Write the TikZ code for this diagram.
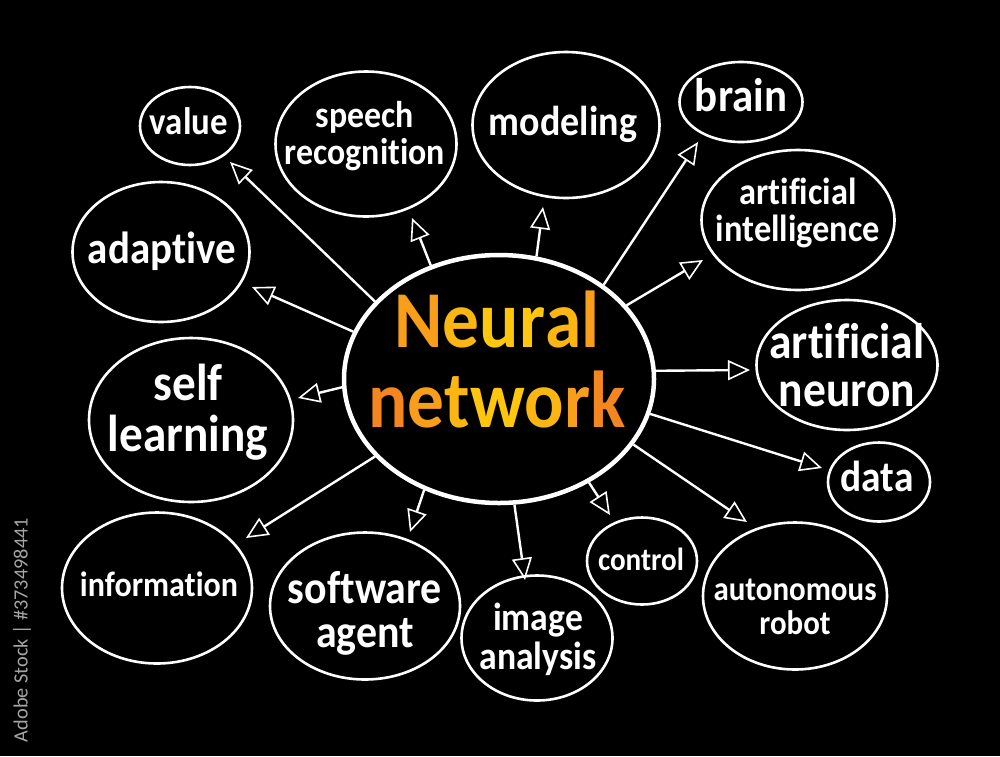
\documentclass[tikz,border=0pt]{standalone}
\usepackage{fontspec}
\setmainfont{Carlito}[Ligatures={NoCommon}]
\usepackage{graphicx}
\usetikzlibrary{shapes.geometric,arrows.meta}
\definecolor{oDeep}{RGB}{244,134,31}
\definecolor{oMid}{RGB}{248,158,26}
\definecolor{yMid}{RGB}{252,182,18}
\definecolor{yLight}{RGB}{255,198,14}
\definecolor{wmgray}{RGB}{165,165,165}
\newcommand{\mmtext}[2]{\resizebox{#1pt}{!}{\scalebox{1}[1.1]{\bfseries\renewcommand{\arraystretch}{0.8}\begin{tabular}{@{}c@{}}#2\end{tabular}}}}
\begin{document}
\begin{tikzpicture}[x=1pt,y=-1pt,
  bub/.style={ellipse,draw=white,line width=2.6pt,inner sep=0pt},
  hub/.style={ellipse,draw=white,line width=4.5pt,inner sep=0pt},
  txt/.style={inner sep=0pt,text=white},
  arr/.style={draw=white,line width=2.4pt,-{Triangle[open,length=22pt,width=20pt,line width=1.6pt]}}]
\useasboundingbox (0,0) rectangle (1000,756);
\fill[black] (0,0) rectangle (1000,756);

% watermark id
\node[rotate=90,text=wmgray,inner sep=0pt] (wm) at (22,630) {\resizebox{224pt}{!}{Adobe Stock | \#373498441}};

% hub
\node[hub,minimum width=310pt,minimum height=248pt] (nn) at (499,379) {};
\node[inner sep=0pt] (nnt) at (497,371) {\resizebox{257pt}{!}{\scalebox{1}[1.1]{\bfseries\renewcommand{\arraystretch}{0.82}\begin{tabular}{@{}c@{}}%
{\color{oMid}N}{\color{yMid}e}{\color{yLight}u}{\color{yLight}r}{\color{yMid}a}{\color{oMid}l}\\
{\color{oDeep}n}{\color{oMid}e}{\color{yMid}t}{\color{yLight}w}{\color{yMid}o}{\color{oMid}r}{\color{oDeep}k}\end{tabular}}}};

% bubbles
\node[bub,minimum width=100pt,minimum height=78pt] (v) at (190,126) {};
\node[txt] (vt) at (189,127) {\mmtext{78}{value}};
\node[bub,minimum width=181pt,minimum height=145pt] (sr) at (366,144) {};
\node[txt] (srt) at (365,138) {\mmtext{160}{speech\\recognition}};
\node[bub,minimum width=187pt,minimum height=146pt] (mo) at (566,125) {};
\node[txt] (mot) at (563,127) {\mmtext{148}{modeling}};
\node[bub,minimum width=123pt,minimum height=80pt] (br) at (741,102) {};
\node[txt] (brt) at (741,102) {\mmtext{92}{brain}};
\node[bub,minimum width=193pt,minimum height=140pt] (ai) at (798,220) {};
\node[txt] (ait) at (798,215) {\mmtext{164}{artificial\\intelligence}};
\node[bub,minimum width=181pt,minimum height=130pt] (an) at (847,365) {};
\node[txt] (ant) at (847,372) {\mmtext{155}{artificial\\neuron}};
\node[bub,minimum width=102pt,minimum height=79pt] (da) at (879,482) {};
\node[txt] (dat) at (877,483) {\mmtext{73}{data}};
\node[bub,minimum width=184pt,minimum height=147pt] (ar) at (795,596) {};
\node[txt] (art) at (795,611) {\mmtext{163}{autonomous\\robot}};
\node[bub,minimum width=110pt,minimum height=87pt] (co) at (642,561) {};
\node[txt] (cot) at (641,564) {\mmtext{86}{control}};
\node[bub,minimum width=151pt,minimum height=125pt] (ia) at (537,638) {};
\node[txt] (iat) at (538,642) {\mmtext{117}{image\\analysis}};
\node[bub,minimum width=190pt,minimum height=147pt] (sa) at (365,606) {};
\node[txt] (sat) at (365,616) {\mmtext{154}{software\\agent}};
\node[bub,minimum width=190pt,minimum height=151pt] (in) at (157,588) {};
\node[txt] (int) at (159,589) {\mmtext{158}{information}};
\node[bub,minimum width=204pt,minimum height=164pt] (sl) at (191,420) {};
\node[txt] (slt) at (188,415) {\mmtext{160}{self\\learning}};
\node[bub,minimum width=177pt,minimum height=140pt] (ad) at (161,252) {};
\node[txt] (adt) at (162,254) {\mmtext{148}{adaptive}};

% arrow tips
\coordinate (tv) at (230,162);
\coordinate (tad) at (252,287);
\coordinate (tsl) at (298,398);
\coordinate (tin) at (246,538);
\coordinate (tsa) at (410,532);
\coordinate (tia) at (525,580);
\coordinate (tco) at (610,515);
\coordinate (tar) at (747,522);
\coordinate (tda) at (822,468);
\coordinate (tan) at (750,370);
\coordinate (tai) at (703,260);
\coordinate (tbr) at (698,142);
\coordinate (tmo) at (543,207);
\coordinate (tsr) at (412,218);

\draw[arr] (nn.148.5) -- (tv);
\draw[arr] (nn.162.6) -- (tad);
\draw[arr] (nn.183) -- (tsl);
\draw[arr] (nn.212) -- (tin);
\draw[arr] (nn.236.8) -- (tsa);
\draw[arr] (nn.277.4) -- (tia);
\draw[arr] (nn.311.4) -- (tco);
\draw[arr] (nn.334.8) -- (tar);
\draw[arr] (nn.347.7) -- (tda);
\draw[arr] (nn.3.7) -- (tan);
\draw[arr] (nn.30.7) -- (tai);
\draw[arr] (nn.42.2) -- (tbr);
\draw[arr] (nn.73.8) -- (tmo);
\draw[arr] (nn.121.6) -- (tsr);
\end{tikzpicture}
\end{document}
